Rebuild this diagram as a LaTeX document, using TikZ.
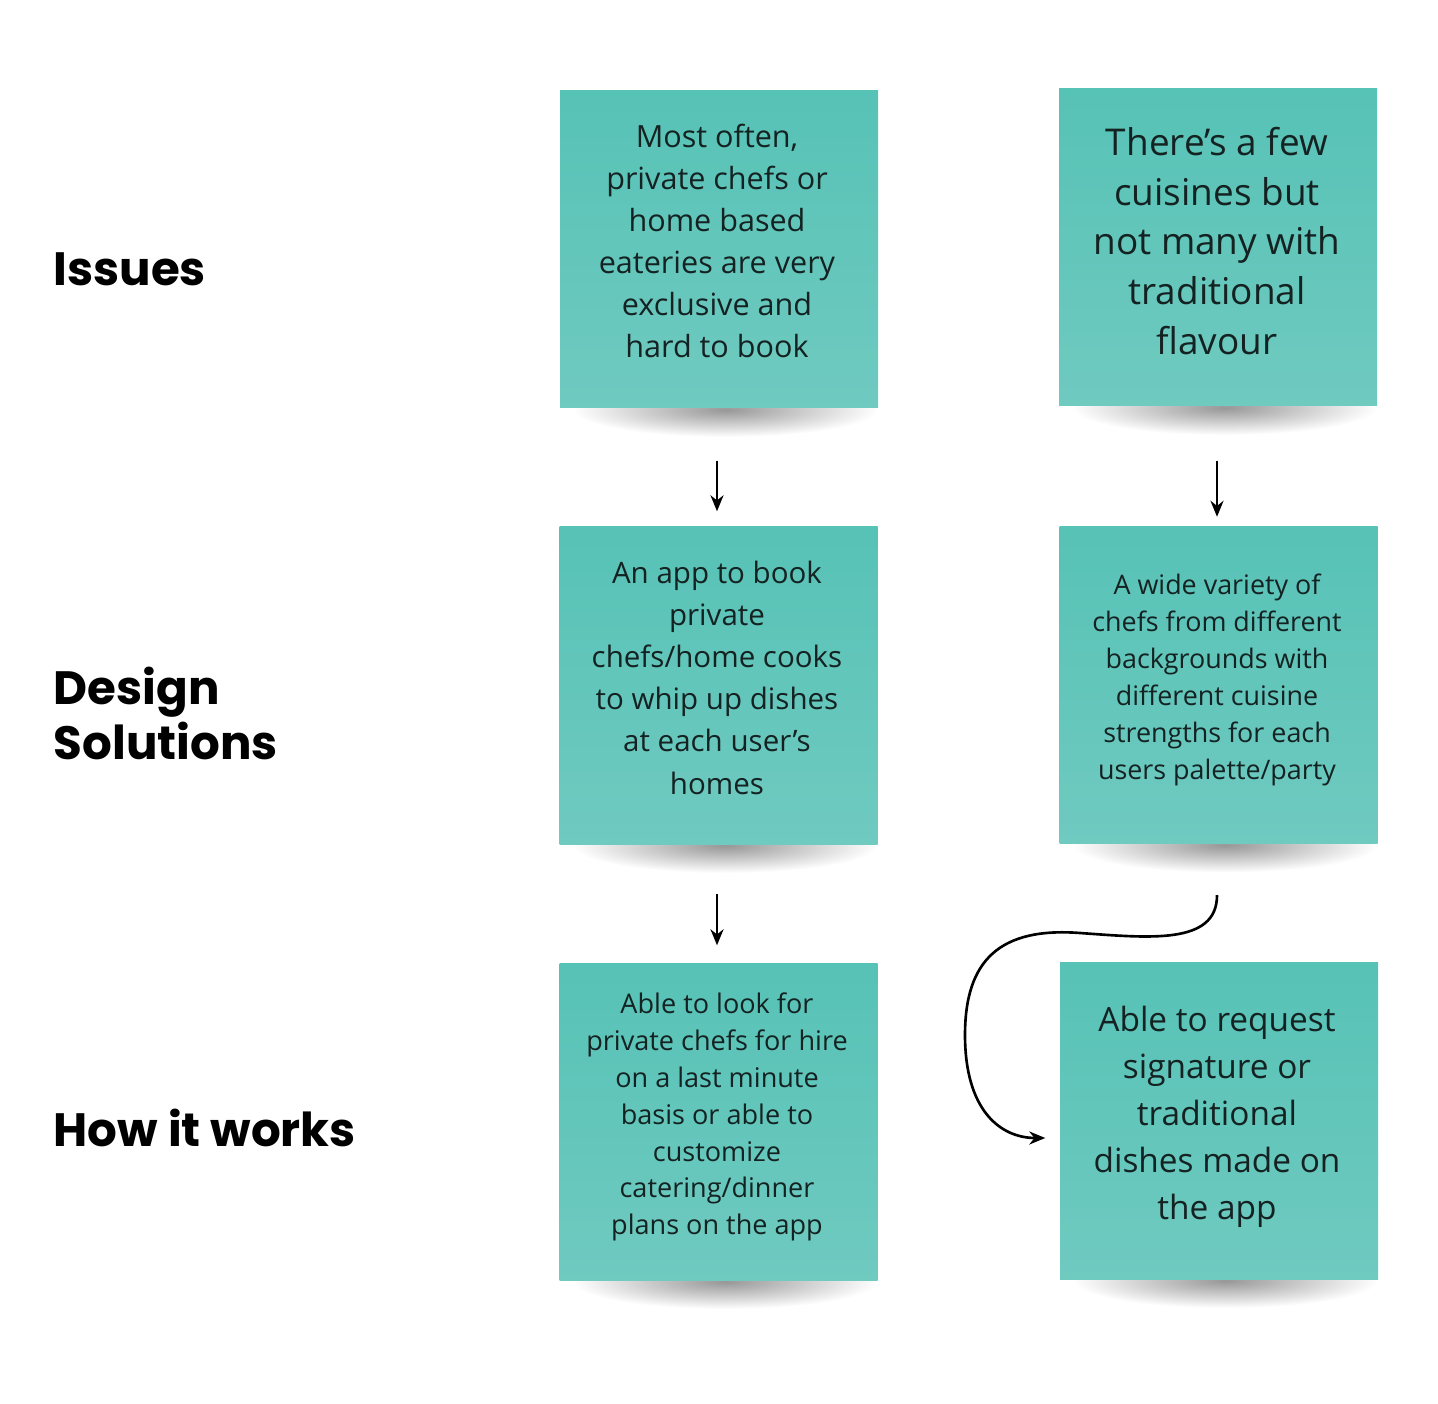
\documentclass[tikz,border=0pt]{standalone}
\usepackage{fontspec}
\setmainfont{Open Sans}
\newfontfamily\headfont{Poppins}
\usetikzlibrary{arrows.meta,calc,fadings,backgrounds}
\definecolor{notetop}{HTML}{57C2B6}
\definecolor{notebottom}{HTML}{6FCAC0}
\definecolor{inkdark}{HTML}{142222}
\tikzfading[name=softshadow,inner color=transparent!10,outer color=transparent!100]

\begin{document}
\begin{tikzpicture}[
  note/.style={rectangle,minimum width=3.18cm,minimum height=3.17cm,top color=notetop,bottom color=notebottom},
  notetext/.style={align=center,text=inkdark,inner sep=0pt},
  heading/.style={anchor=west,inner sep=0pt,align=left,font=\headfont\bfseries\fontsize{13.3}{15.6}\selectfont},
  flow/.style={-{Stealth[length=1.6mm,width=1.3mm]},line width=0.75pt}
]
\useasboundingbox (0,0) rectangle (14.38,-14.04);
% row headings
\node[heading] (issues) at (0.53,-2.695) {Issues};
\node[heading] (design) at (0.53,-7.135) {Design\\Solutions};
\node[heading] (works) at (0.53,-11.275) {How it works};
% sticky notes
\node[note] (iss1) at (7.19,-2.495) {};
\node[note] (iss2) at (12.18,-2.475) {};
\node[note] (sol1) at (7.185,-6.855) {};
\node[note] (sol2) at (12.185,-6.85) {};
\node[note] (how1) at (7.185,-11.215) {};
\node[note] (how2) at (12.19,-11.205) {};
% shadows under the notes
\begin{scope}[on background layer]
\fill[white] (0,0) rectangle (14.38,-14.04);
\foreach \n in {iss1,iss2,sol1,sol2,how1,how2}
  \fill[black!45,path fading=softshadow] ([xshift=0.15cm,yshift=0.26cm]\n.south west) rectangle ([xshift=-0.02cm,yshift=-0.28cm]\n.south east);
\end{scope}
% note texts
\node[notetext,font=\fontsize{8.7}{12}\selectfont] (iss1txt) at (7.17,-2.41)
  {Most often,\\private chefs or\\home based\\eateries are very\\exclusive and\\hard to book};
\node[notetext,font=\fontsize{10.5}{14.2}\selectfont] (iss2txt) at (12.17,-2.41)
  {There's a few\\cuisines but\\not many with\\traditional\\flavour};
\node[notetext,font=\fontsize{8.4}{12}\selectfont] (sol1txt) at (7.17,-6.775)
  {An app to book\\private\\chefs/home cooks\\to whip up dishes\\at each user's\\homes};
\node[notetext,font=\fontsize{7.65}{10.5}\selectfont] (sol2txt) at (12.17,-6.80)
  {A wide variety of\\chefs from different\\backgrounds with\\different cuisine\\strengths for each\\users palette/party};
\node[notetext,font=\fontsize{7.7}{10.5}\selectfont] (how1txt) at (7.17,-11.17)
  {Able to look for\\private chefs for hire\\on a last minute\\basis or able to\\customize\\catering/dinner\\plans on the app};
\node[notetext,font=\fontsize{9.5}{13.4}\selectfont] (how2txt) at (12.17,-11.17)
  {Able to request\\signature or\\traditional\\dishes made on\\the app};
% arrows
\draw[flow,shorten <=0.52cm,shorten >=0.15cm] (iss1.south-|sol1txt) -- (sol1.north-|sol1txt);
\draw[flow,shorten <=0.54cm,shorten >=0.09cm] (iss2.south-|sol2txt) -- (sol2.north-|sol2txt);
\draw[flow,shorten <=0.49cm,shorten >=0.17cm] (sol1.south-|how1txt) -- (how1.north-|how1txt);
\draw[flow] ([yshift=-0.51cm]sol2.south-|sol2txt) .. controls (12.17,-9.45) and (11.5,-9.38) .. (10.8,-9.33)
  .. controls (10.0,-9.27) and (9.65,-9.6) .. (9.65,-10.35)
  .. controls (9.65,-11.1) and (10.0,-11.38) .. ([shift={(-0.14cm,-0.175cm)}]how2.west);
\end{tikzpicture}
\end{document}
